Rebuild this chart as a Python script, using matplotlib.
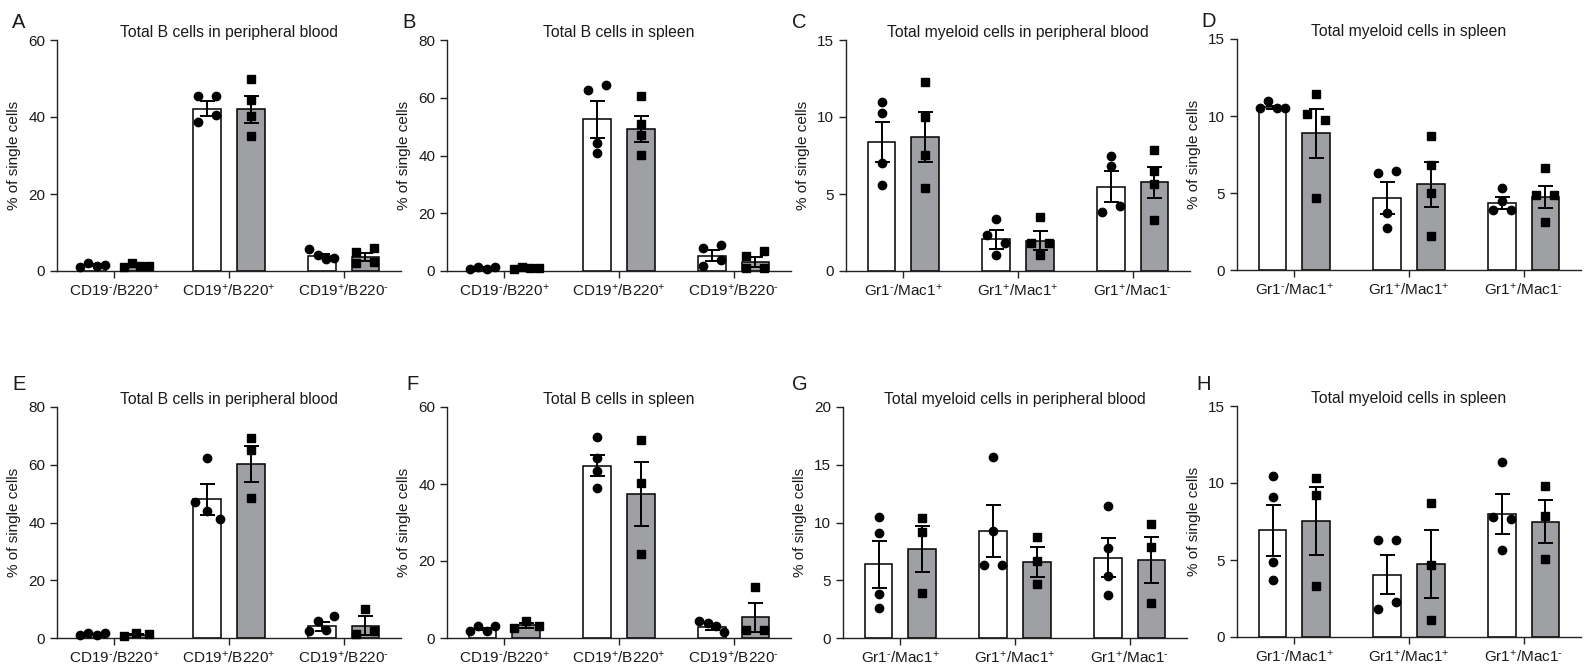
import numpy as np
import matplotlib.pyplot as plt

plt.rcParams["font.family"] = ["Liberation Sans", "DejaVu Sans"]
plt.rcParams["mathtext.fontset"] = "custom"
plt.rcParams["mathtext.rm"] = "Liberation Sans"
plt.rcParams["mathtext.default"] = "regular"

# =========================
# 数据
# =========================
b_labels = [r"CD19$^{\text{-}}$/B220$^{+}$", r"CD19$^{+}$/B220$^{+}$", r"CD19$^{+}$/B220$^{\text{-}}$"]
m_labels = [r"Gr1$^{\text{-}}$/Mac1$^{+}$", r"Gr1$^{+}$/Mac1$^{+}$", r"Gr1$^{+}$/Mac1$^{\text{-}}$"]

# A: Total B cells in peripheral blood
a_ctrl_pts = [[1.1, 2.1, 1.4, 1.6], [45.4, 45.4, 38.6, 40.6], [5.8, 4.2, 3.0, 3.5]]
a_ko_pts = [[1.1, 2.0, 1.4, 1.4], [50.0, 44.5, 40.3, 35.1], [5.0, 5.9, 2.0, 2.4]]
a_ctrl_mean = [1.5, 42.2, 3.9]
a_ctrl_sem = [0.2, 2.0, 0.6]
a_ko_mean = [1.5, 42.0, 3.6]
a_ko_sem = [0.2, 3.5, 1.0]

# B: Total B cells in spleen
b_ctrl_pts = [[0.8, 1.5, 0.8, 1.5], [62.8, 64.5, 44.3, 41.0], [7.9, 9.0, 1.8, 3.8]]
b_ko_pts = [[0.8, 1.5, 1.2, 1.2], [60.5, 50.9, 47.2, 40.2], [5.3, 6.9, 0.9, 1.2]]
b_ctrl_mean = [1.2, 52.6, 5.3]
b_ctrl_sem = [0.2, 6.4, 2.0]
b_ko_mean = [1.2, 49.1, 3.1]
b_ko_sem = [0.2, 4.5, 1.8]

# C: Total myeloid cells in peripheral blood
c_ctrl_pts = [[11.0, 10.25, 7.0, 5.6], [3.4, 2.35, 1.8, 1.05], [7.5, 6.85, 3.85, 4.2]]
c_ko_pts = [[12.25, 10.0, 7.55, 5.4], [3.5, 1.8, 1.8, 1.05], [7.85, 6.5, 5.65, 3.3]]
c_ctrl_mean = [8.37, 2.06, 5.48]
c_ctrl_sem = [1.3, 0.6, 1.0]
c_ko_mean = [8.7, 1.97, 5.77]
c_ko_sem = [1.6, 0.6, 1.0]

# D: Total myeloid cells in spleen
d_ctrl_pts = [[10.5, 10.95, 10.5, 10.5], [6.3, 6.45, 3.7, 2.7], [5.35, 4.5, 3.9, 3.9]]
d_ko_pts = [[11.4, 10.1, 9.75, 4.7], [8.67, 6.83, 4.99, 2.23], [6.6, 4.9, 4.88, 3.14]]
d_ctrl_mean = [10.56, 4.66, 4.34]
d_ctrl_sem = [0.1, 1.05, 0.4]
d_ko_mean = [8.87, 5.57, 4.75]
d_ko_sem = [1.6, 1.45, 0.7]

# E: Total B cells in peripheral blood
e_ctrl_pts = [[1.2, 1.7, 1.2, 1.7], [62.3, 47.2, 44.1, 41.2], [2.3, 5.8, 2.7, 7.6]]
e_ko_pts = [[0.6, 1.7, 1.4], [69.2, 65.2, 48.4], [1.5, 10.2, 2.3]]
e_ctrl_mean = [1.4, 48.0, 4.0]
e_ctrl_sem = [0.15, 5.3, 1.5]
e_ko_mean = [1.2, 60.3, 4.3]
e_ko_sem = [0.3, 6.2, 3.2]

# F: Total B cells in spleen
f_ctrl_pts = [[1.9, 3.0, 1.9, 3.0], [52.2, 46.8, 43.4, 39.0], [4.5, 3.9, 3.0, 1.6]]
f_ko_pts = [[2.6, 4.5, 3.0], [51.3, 40.2, 21.7], [2.0, 13.3, 2.2]]
f_ctrl_mean = [2.3, 44.8, 2.9]
f_ctrl_sem = [0.3, 2.8, 0.7]
f_ko_mean = [3.3, 37.3, 5.4]
f_ko_sem = [0.6, 8.3, 3.8]

# G: Total myeloid cells in peripheral blood
g_ctrl_pts = [[10.5, 9.1, 3.8, 2.6], [15.7, 9.26, 6.3, 6.3], [11.4, 7.8, 5.4, 3.7]]
g_ko_pts = [[10.36, 9.2, 3.9], [8.77, 6.66, 4.66], [9.84, 7.9, 3.0]]
g_ctrl_mean = [6.37, 9.26, 6.95]
g_ctrl_sem = [2.0, 2.25, 1.7]
g_ko_mean = [7.7, 6.54, 6.74]
g_ko_sem = [2.0, 1.3, 2.0]

# H: Total myeloid cells in spleen
h_ctrl_pts = [[10.45, 9.1, 4.87, 3.72], [6.28, 6.28, 1.8, 2.3], [11.36, 7.8, 7.64, 5.63]]
h_ko_pts = [[10.35, 9.2, 3.3], [8.7, 4.65, 1.13], [9.78, 7.86, 5.04]]
h_ctrl_mean = [6.93, 4.05, 7.97]
h_ctrl_sem = [1.65, 1.25, 1.3]
h_ko_mean = [7.53, 4.76, 7.5]
h_ko_sem = [2.2, 2.2, 1.4]

panels = [
    ("A", "Total B cells in peripheral blood", b_labels, 60, 20,
     a_ctrl_pts, a_ko_pts, a_ctrl_mean, a_ctrl_sem, a_ko_mean, a_ko_sem),
    ("B", "Total B cells in spleen", b_labels, 80, 20,
     b_ctrl_pts, b_ko_pts, b_ctrl_mean, b_ctrl_sem, b_ko_mean, b_ko_sem),
    ("C", "Total myeloid cells in peripheral blood", m_labels, 15, 5,
     c_ctrl_pts, c_ko_pts, c_ctrl_mean, c_ctrl_sem, c_ko_mean, c_ko_sem),
    ("D", "Total myeloid cells in spleen", m_labels, 15, 5,
     d_ctrl_pts, d_ko_pts, d_ctrl_mean, d_ctrl_sem, d_ko_mean, d_ko_sem),
    ("E", "Total B cells in peripheral blood", b_labels, 80, 20,
     e_ctrl_pts, e_ko_pts, e_ctrl_mean, e_ctrl_sem, e_ko_mean, e_ko_sem),
    ("F", "Total B cells in spleen", b_labels, 60, 20,
     f_ctrl_pts, f_ko_pts, f_ctrl_mean, f_ctrl_sem, f_ko_mean, f_ko_sem),
    ("G", "Total myeloid cells in peripheral blood", m_labels, 20, 5,
     g_ctrl_pts, g_ko_pts, g_ctrl_mean, g_ctrl_sem, g_ko_mean, g_ko_sem),
    ("H", "Total myeloid cells in spleen", m_labels, 15, 5,
     h_ctrl_pts, h_ko_pts, h_ctrl_mean, h_ctrl_sem, h_ko_mean, h_ko_sem),
]

# =========================
# 布局（像素）
# =========================
FIG_W, FIG_H = 1584, 669
AX_W, AX_H = 344, 231
ax_lefts = [57, 447, 846, 1237, 57, 447, 843, 1237]
ax_tops = [40, 40, 40, 39, 407, 407, 407, 406]
letter_x = [12, 402, 792, 1201, 12, 406, 792, 1196]
letter_top = [13, 13, 13, 12, 375, 375, 375, 375]

GREY = "#9fa0a4"
TEXT = "#1a1a1a"
BAR_W = 0.24
OFF = 0.19


def spread_offsets(vals, ymax):
    """GraphPad 风格：数值相近的点左右散开"""
    vals = np.asarray(vals, dtype=float)
    thresh = 9.0 * ymax / AX_H
    order = np.argsort(vals, kind="stable")
    clusters = []
    for idx in order:
        if clusters and vals[idx] - vals[clusters[-1][-1]] < thresh:
            clusters[-1].append(idx)
        else:
            clusters.append([idx])
    offs = np.zeros(len(vals))
    px = 1.0 / 114.5
    for cl in clusters:
        n = len(cl)
        if n == 1:
            continue
        step = min(18 * px, 0.9 * BAR_W / (n - 1))
        for k, idx in enumerate(sorted(cl)):
            offs[idx] = (k - (n - 1) / 2) * step
    return offs


fig = plt.figure(figsize=(FIG_W / 100, FIG_H / 100), dpi=100)

for i, p in enumerate(panels):
    (letter, title, labels, ymax, ystep,
     ctrl_pts, ko_pts, ctrl_mean, ctrl_sem, ko_mean, ko_sem) = p
    rect = [ax_lefts[i] / FIG_W, 1 - (ax_tops[i] + AX_H) / FIG_H, AX_W / FIG_W, AX_H / FIG_H]
    ax = fig.add_axes(rect)

    for g in range(3):
        for sign, pts, mean, sem, face, mk, ms in [
            (-1, ctrl_pts[g], ctrl_mean[g], ctrl_sem[g], "white", "o", 6.0),
            (1, ko_pts[g], ko_mean[g], ko_sem[g], GREY, "s", 5.3),
        ]:
            xc = g + sign * OFF
            ax.bar(xc, mean, BAR_W, color=face, edgecolor="black", linewidth=1.1, zorder=2)
            ax.errorbar(xc, mean, yerr=sem, color="black", capsize=5.4, elinewidth=1.4,
                        capthick=1.4, zorder=3)
            xs = xc + spread_offsets(pts, ymax)
            ax.plot(xs, pts, mk, ms=ms, color="black", zorder=4, clip_on=False)

    ax.set_xlim(-0.5, 2.5)
    ax.set_ylim(0, ymax)
    ax.set_yticks(np.arange(0, ymax + 0.1, ystep))
    ax.set_xticks(range(3))
    ax.set_xticklabels(labels, fontsize=11, color=TEXT)
    for s in ["top", "right"]:
        ax.spines[s].set_visible(False)
    for s in ["left", "bottom"]:
        ax.spines[s].set_linewidth(1.0)
        ax.spines[s].set_color("#222222")
    ax.tick_params(direction="out", length=5, width=1.0, labelsize=11, colors="#222222",
                   labelcolor=TEXT)
    ax.set_ylabel("% of single cells", fontsize=11, color=TEXT, labelpad=5)
    ax.set_title(title, fontsize=11.3, color=TEXT, pad=2)

    fig.text(letter_x[i] / FIG_W, 1 - letter_top[i] / FIG_H, letter, fontsize=14.5,
             color=TEXT, ha="left", va="top")

fig.savefig("out.png", dpi=100)
